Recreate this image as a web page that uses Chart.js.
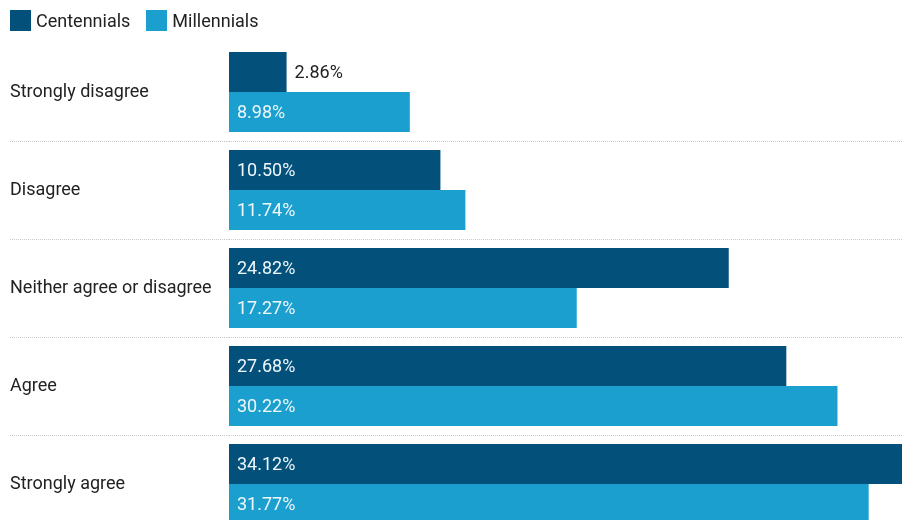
<!DOCTYPE html>
<html>
<head>
<meta charset="utf-8">
<script src="https://cdn.jsdelivr.net/npm/chart.js@4/dist/chart.umd.min.js"></script>
<style>
  body { margin: 0; background: #fff; }
  #wrap { width: 902px; height: 520px; overflow: hidden; position: relative; }
  #legend { position: absolute; left: 10px; top: 10px; display: flex; font: 18px Roboto, 'Noto Sans', sans-serif; color: #222; }
  #legend .item { display: flex; align-items: center; margin-right: 16px; height: 21px; }
  #legend .box { width: 21px; height: 21px; margin-right: 5px; }
  #chart { position: absolute; left: 0; top: 0; }
</style>
</head>
<body>
<div id="wrap">
  <canvas id="chart" width="916" height="544"></canvas>
  <div id="legend"></div>
</div>
<script>
const categories = ["Strongly disagree", "Disagree", "Neither agree or disagree", "Agree", "Strongly agree"];
const centennials = [2.86, 10.50, 24.82, 27.68, 34.12];
const millennials = [8.98, 11.74, 17.27, 30.22, 31.77];

const DARK = "#03517b";
const LIGHT = "#1b9fcf";
const FONT = "Roboto, 'Noto Sans', sans-serif";

// value labels: inside the bar near its base, or just past the end if the bar is too short
const valueLabels = {
    id: "valueLabels",
    afterDatasetsDraw(chart) {
        const ctx = chart.ctx;
        ctx.save();
        ctx.font = "18px " + FONT;
        ctx.textBaseline = "middle";
        ctx.textAlign = "left";
        chart.data.datasets.forEach((ds, di) => {
            chart.getDatasetMeta(di).data.forEach((bar, i) => {
                let text = ds.data[i].toFixed(2) + "%";
                let w = ctx.measureText(text).width;
                let len = bar.x - bar.base;
                if (len > w + 16) {
                    ctx.fillStyle = "#eef7fb";
                    ctx.fillText(text, bar.base + 8, bar.y + 1);
                } else {
                    ctx.fillStyle = "#222";
                    ctx.fillText(text, bar.x + 8, bar.y + 1);
                }
            });
        });
        ctx.restore();
    }
};

const chart = new Chart(document.getElementById("chart").getContext("2d"), {
    type: "bar",
    data: {
        labels: categories,
        datasets: [
            { label: "Centennials", data: centennials, backgroundColor: DARK },
            { label: "Millennials", data: millennials, backgroundColor: LIGHT }
        ]
    },
    options: {
        indexAxis: "y",
        responsive: false,
        animation: false,
        datasets: {
            bar: { barPercentage: 1, categoryPercentage: 80 / 98 }
        },
        layout: { padding: { left: 10, right: 0, top: 43, bottom: 11 } },
        scales: {
            x: {
                display: false,
                min: 0,
                max: 34.12
            },
            y: {
                ticks: {
                    crossAlign: "far",
                    color: "#222",
                    font: { family: FONT, size: 18 },
                    padding: 0
                },
                grid: {
                    offset: true,
                    tickLength: 219,
                    lineWidth: 1,
                    color: (c) => c.index === 0 ? "rgba(0,0,0,0)" : "#c8c8c8",
                    tickColor: (c) => c.index === 0 ? "rgba(0,0,0,0)" : "#c8c8c8",
                    tickBorderDash: [1, 1]
                },
                border: { display: false, dash: [1, 1] },
                afterFit(axis) { axis.width = 219; }
            }
        },
        plugins: {
            legend: { display: false },
            tooltip: { enabled: false }
        }
    },
    plugins: [valueLabels]
});

// html legend built from the datasets
const legendEl = document.getElementById("legend");
chart.data.datasets.forEach(ds => {
    const item = document.createElement("div");
    item.className = "item";
    const box = document.createElement("span");
    box.className = "box";
    box.style.background = ds.backgroundColor;
    item.appendChild(box);
    item.appendChild(document.createTextNode(ds.label));
    legendEl.appendChild(item);
});
</script>
</body>
</html>
